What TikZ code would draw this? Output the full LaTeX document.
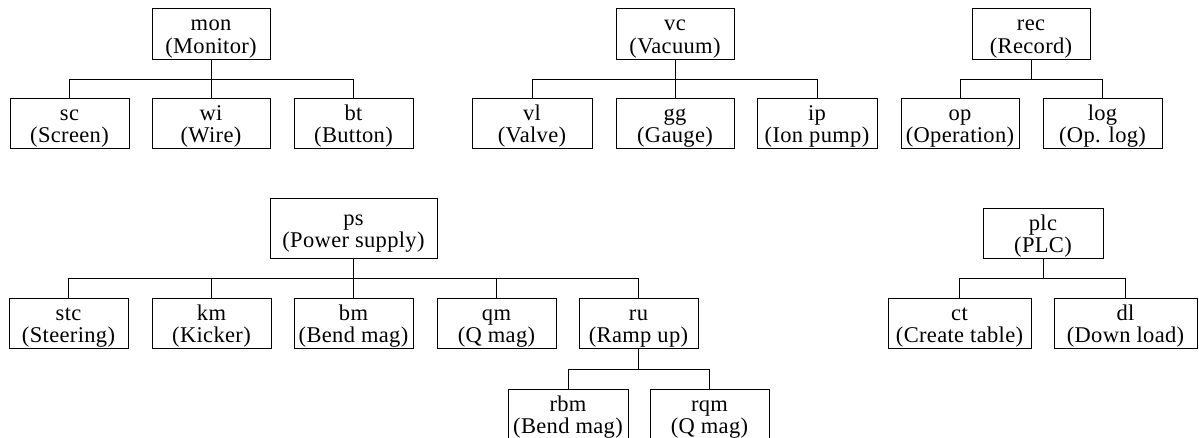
\documentclass[tikz,border=0pt]{standalone}
\usepackage{fontspec}
\setmainfont[LetterSpace=1.5]{Liberation Serif}
\begin{document}
\begin{tikzpicture}[x=1pt,y=-1pt,
  box/.style={draw, line width=0.9pt, inner sep=0pt, align=center,
    minimum height=50pt, text height=44.5pt, text depth=5pt,
    font={\fontsize{22.5}{22.5}\selectfont}},
  w118/.style={minimum width=118pt},
  w119/.style={minimum width=119pt},
  w120/.style={minimum width=120pt},
  link/.style={line width=0.9pt}]
\clip (0,0) rectangle (1199,438);
% top-left tree
\node[box,w118,minimum height=51pt] (mon) at (211,33.5) {mon\\(Monitor)};
\node[box,w119] (sc) at (69.5,123) {sc\\(Screen)};
\node[box,w118] (wi) at (211,123) {wi\\(Wire)};
\node[box,w119] (bt) at (353.5,123) {bt\\(Button)};
\coordinate (monbus) at (211,79);
\draw[link] (mon.south) -- (monbus);
\draw[link] (monbus) -| (sc.north);
\draw[link] (monbus) -- (wi.north);
\draw[link] (monbus) -| (bt.north);
% top-middle tree
\node[box,w118,minimum height=51pt] (vc) at (675,33.5) {vc\\(Vacuum)};
\node[box,w120] (vl) at (532,123) {vl\\(Valve)};
\node[box,w118] (gg) at (675,123) {gg\\(Gauge)};
\node[box,w120] (ip) at (817,123) {ip\\(Ion pump)};
\coordinate (vcbus) at (675,79);
\draw[link] (vc.south) -- (vcbus);
\draw[link] (vcbus) -| (vl.north);
\draw[link] (vcbus) -- (gg.north);
\draw[link] (vcbus) -| (ip.north);
% top-right tree
\node[box,w118,minimum height=51pt] (rec) at (1031,33.5) {rec\\(Record)};
\node[box,w118] (op) at (960,123) {op\\(Operation)};
\node[box,w119] (log) at (1102.5,123) {log\\(Op. log)};
\coordinate (recbus) at (1031,79);
\draw[link] (rec.south) -- (recbus);
\draw[link] (recbus) -| (op.north);
\draw[link] (recbus) -| (log.north);
% bottom-left tree
\node[box,minimum width=167pt,minimum height=60pt] (ps) at (353.5,228) {ps\\(Power supply)};
\node[box,w119] (stc) at (68.5,323) {stc\\(Steering)};
\node[box,w119] (km) at (211.5,323) {km\\(Kicker)};
\node[box,w119] (bm) at (353.5,323) {bm\\(Bend mag)};
\node[box,w119] (qm) at (496.5,323) {qm\\(Q mag)};
\node[box,w119] (ru) at (638.5,323) {ru\\(Ramp up)};
\coordinate (psbus) at (353.5,278);
\draw[link] (ps.south) -- (psbus);
\draw[link] (psbus) -| (stc.north);
\draw[link] (psbus) -| (km.north);
\draw[link] (psbus) -- (bm.north);
\draw[link] (psbus) -| (qm.north);
\draw[link] (psbus) -| (ru.north);
\node[box,w120] (rbm) at (568,414) {rbm\\(Bend mag)};
\node[box,w119] (rqm) at (709.5,414) {rqm\\(Q mag)};
\coordinate (rubus) at (638.5,369);
\draw[link] (ru.south) -- (rubus);
\draw[link] (rubus) -| (rbm.north);
\draw[link] (rubus) -| (rqm.north);
% bottom-right tree
\node[box,w120] (plc) at (1043,233) {plc\\(PLC)};
\node[box,minimum width=143pt] (ct) at (959.5,323) {ct\\(Create table)};
\node[box,minimum width=143pt] (dl) at (1125.5,323) {dl\\(Down load)};
\coordinate (plcbus) at (1043,278);
\draw[link] (plc.south) -- (plcbus);
\draw[link] (plcbus) -| (ct.north);
\draw[link] (plcbus) -| (dl.north);
\end{tikzpicture}
\end{document}
